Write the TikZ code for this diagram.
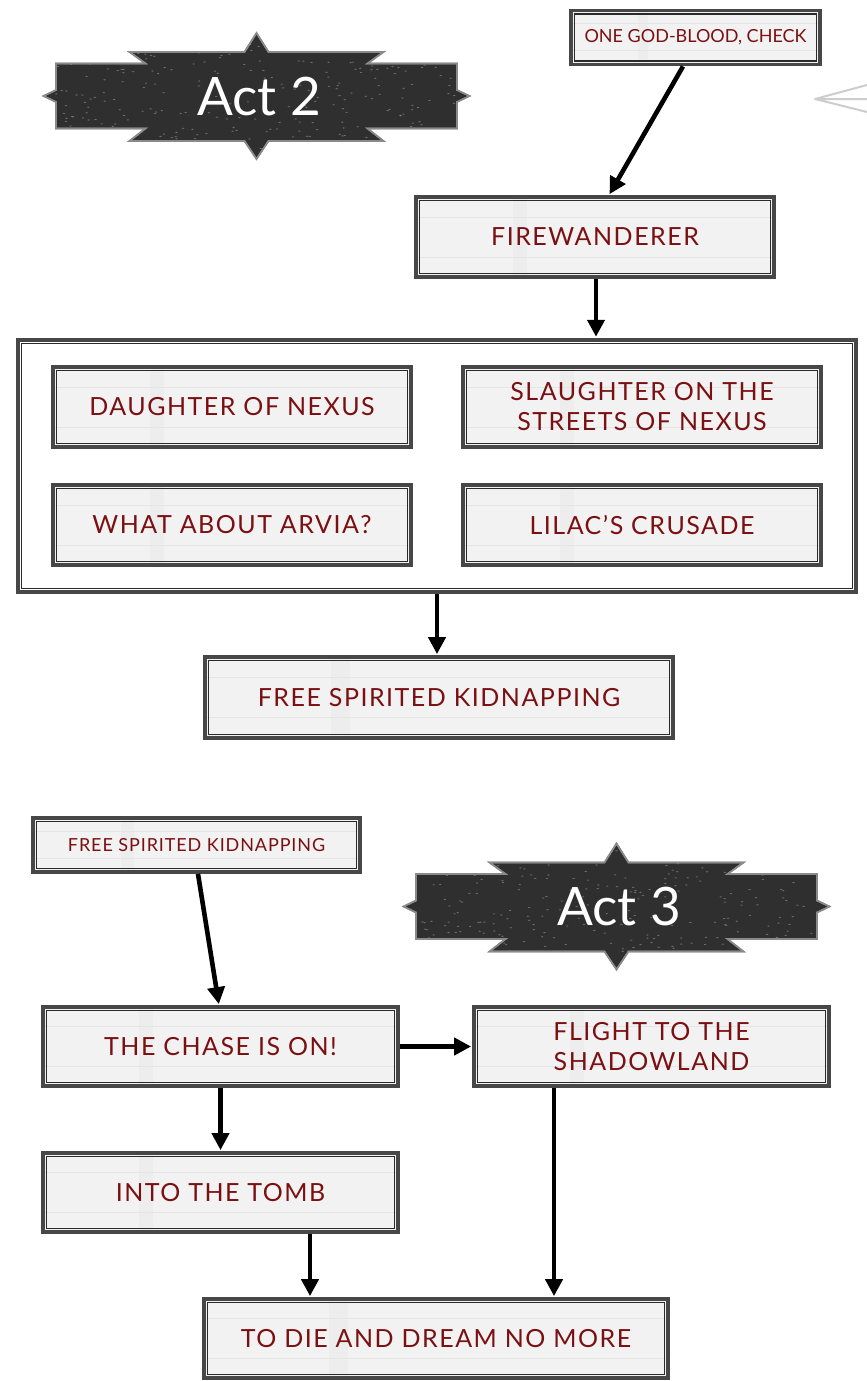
\documentclass[tikz,border=0pt]{standalone}
\usepackage{fontspec}
\setmainfont{Lato}
\newfontfamily\boxfont[LetterSpace=6]{Lato}
\newfontfamily\smallboxfont[LetterSpace=5]{Lato}
\usetikzlibrary{arrows.meta,calc}
\definecolor{boxedge}{HTML}{474747}
\definecolor{boxinner}{HTML}{2A2A2A}
\definecolor{boxfill}{HTML}{F2F2F2}
\definecolor{txtred}{HTML}{7A1012}
\definecolor{banfill}{HTML}{2F2F2F}
\definecolor{banedge}{HTML}{8A8A8A}
\definecolor{ghost}{HTML}{CDCDCD}
\tikzset{
  panel/.style={draw=boxedge, line width=3.8pt, fill=boxfill, text=txtred, align=center,
    inner sep=0pt, font=\boxfont\fontsize{25}{30}\selectfont,
    path picture={
      \fill[black!7] ($(path picture bounding box.south west)!0.27!(path picture bounding box.south east)$) rectangle
                     ($(path picture bounding box.north west)!0.31!(path picture bounding box.north east)$);
      \draw[black!10, line width=1pt] ($(path picture bounding box.south west)!0.25!(path picture bounding box.north west)$) --
                     ($(path picture bounding box.south east)!0.25!(path picture bounding box.north east)$);
      \draw[black!10, line width=1pt] ($(path picture bounding box.south west)!0.75!(path picture bounding box.north west)$) --
                     ($(path picture bounding box.south east)!0.75!(path picture bounding box.north east)$);
      \draw[boxinner, line width=1.3pt] ([shift={(3.4pt,3.4pt)}]path picture bounding box.south west) rectangle
                     ([shift={(-3.4pt,-3.4pt)}]path picture bounding box.north east);
    }},
  smallpanel/.style={panel, font=\fontsize{18}{21}\selectfont},
  frame/.style={draw=boxedge, line width=4.5pt, fill=white, inner sep=0pt,
    path picture={
      \draw[boxinner, line width=1.3pt] ([shift={(3.8pt,3.8pt)}]path picture bounding box.south west) rectangle
                     ([shift={(-3.8pt,-3.8pt)}]path picture bounding box.north east);
    }},
  arr/.style={line width=4.6pt, -{Triangle[length=17pt,width=17pt]}, shorten >=1pt},
  acttext/.style={text=white, font=\fontsize{53}{58}\selectfont, inner sep=0pt},
  banner/.style={fill=banfill, draw=banedge, line width=1.6pt, line join=miter},
}
\newcommand{\bannershape}{(-213,0) -- (-200.5,-6) -- (-200.5,-32.5) -- (-111,-32.5) -- (-127,-44) -- (-12,-44) -- (0,-63) -- (12,-44) -- (127,-44) -- (111,-32.5) -- (200.5,-32.5) -- (200.5,-6) -- (213,0) -- (200.5,6) -- (200.5,32.5) -- (111,32.5) -- (127,45) -- (12,45) -- (0,63) -- (-12,45) -- (-127,45) -- (-111,32.5) -- (-200.5,32.5) -- (-200.5,6) -- cycle}
\newcommand{\drawbanner}[2]{%
  \begin{scope}[shift={(#1,#2)}]
    \path[banner] \bannershape;
    \begin{scope}
      \clip \bannershape;
      \pgfmathsetseed{#1}
      \foreach \i in {1,...,320} {
        \fill[white, opacity=0.3] ({rand*205},{rand*60}) ellipse (1.4 and 0.6);
      }
    \end{scope}
    \path[draw=banedge, line width=1.6pt] \bannershape;
  \end{scope}}
\begin{document}
\begin{tikzpicture}[x=1pt, y=-1pt]
\useasboundingbox (0,0) rectangle (867,1381);
\fill[white] (0,0) rectangle (867,1381);

% banners
\drawbanner{256.5}{96}
\node[acttext] (act2) at (259,97) {Act 2};
\drawbanner{616.5}{906.5}
\node[acttext] (act3) at (619,907) {Act 3};

% faint arrow at right edge
\draw[ghost, line width=2pt, line join=round] (867,85) -- (815,99) -- (867,112) (815,99) -- (867,99);

% Act 2 nodes
\node[smallpanel, minimum width=249pt, minimum height=54pt] (god) at (695.5,37.5) {ONE GOD-BLOOD, CHECK};
\node[panel, minimum width=358pt, minimum height=80pt] (fire) at (595,237) {FIREWANDERER};
\node[frame, minimum width=838pt, minimum height=252pt] (group) at (437,466) {};
\node[panel, minimum width=358pt, minimum height=80pt] (daughter) at (232,407) {DAUGHTER OF NEXUS};
\node[panel, minimum width=358pt, minimum height=80pt] (slaughter) at (642,407) {SLAUGHTER ON THE\\STREETS OF NEXUS};
\node[panel, minimum width=358pt, minimum height=80pt] (arvia) at (232,525) {WHAT ABOUT ARVIA?};
\node[panel, minimum width=358pt, minimum height=80pt] (lilac) at (642,525) {LILAC’S CRUSADE};
\node[panel, minimum width=468pt, minimum height=81pt] (fsk) at (439,697.5) {FREE SPIRITED KIDNAPPING};

% Act 3 nodes
\node[smallpanel, font=\smallboxfont\fontsize{18}{21}\selectfont, minimum width=327pt, minimum height=54pt] (fsk2) at (196.5,845) {FREE SPIRITED KIDNAPPING};
\node[panel, minimum width=355pt, minimum height=79pt] (chase) at (220.5,1046.5) {THE CHASE IS ON!};
\node[panel, minimum width=355pt, minimum height=79pt] (flight) at (651.5,1046.5) {FLIGHT TO THE\\SHADOWLAND};
\node[panel, minimum width=355pt, minimum height=79pt] (tomb) at (220.5,1192.5) {INTO THE TOMB};
\node[panel, minimum width=464pt, minimum height=79pt] (die) at (436,1338.5) {TO DIE AND DREAM NO MORE};

% connectors
\draw[arr] ([xshift=-12.5pt]god.south) -- ([xshift=14pt]fire.north);
\draw[arr] ([xshift=1pt]fire.south) -- ([xshift=1pt]fire.south |- group.north);
\draw[arr] (group.south) -- (group.south |- fsk.north);
\draw[arr] ([xshift=1.5pt]fsk2.south) -- ([xshift=-1.5pt]chase.north);
\draw[arr] (chase.east) -- (flight.west);
\draw[arr] (chase.south) -- (tomb.north);
\draw[arr] ([xshift=89.5pt]tomb.south) -- ([xshift=89.5pt]tomb.south |- die.north);
\draw[arr] ([xshift=-97.5pt]flight.south) -- ([xshift=-97.5pt]flight.south |- die.north);
\end{tikzpicture}
\end{document}
